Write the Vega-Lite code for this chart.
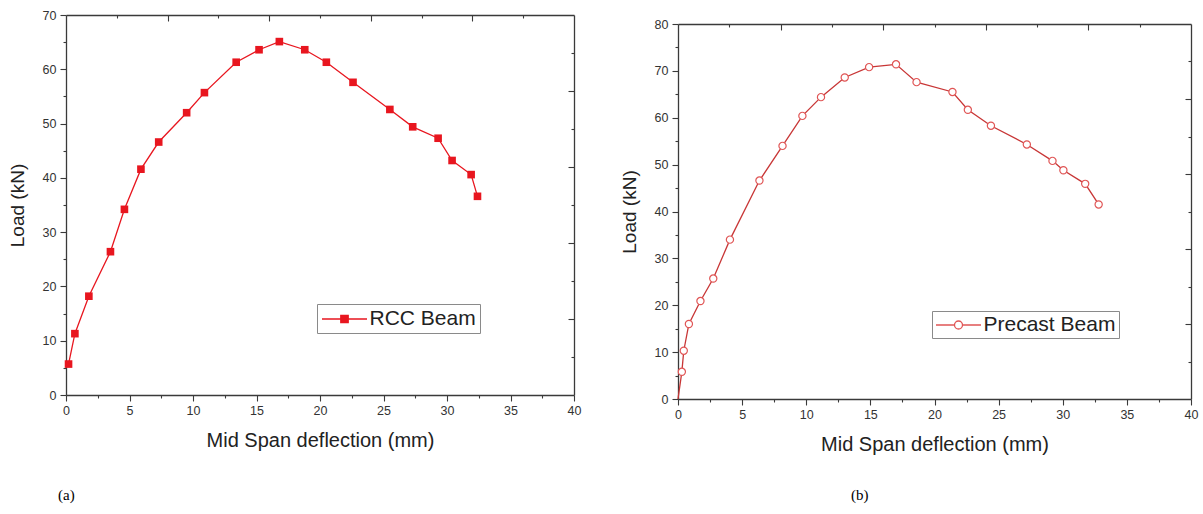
{
  "$schema": "https://vega.github.io/schema/vega-lite/v6.json",
  "padding": {"left": 8, "top": 7, "right": 4, "bottom": 5},
  "background": "white",
  "spacing": 39,
  "resolve": {"legend": {"color": "independent", "stroke": "independent"}, "scale": {"color": "independent", "stroke": "independent"}},
  "config": {
    "view": {"stroke": null},
    "axis": {
      "grid": false,
      "domainColor": "#3a3a3a",
      "domainWidth": 1.3,
      "tickColor": "#3a3a3a",
      "tickWidth": 1.1,
      "labelFont": "Liberation Sans",
      "labelFontSize": 12.5,
      "labelColor": "#333333",
      "titleFont": "Liberation Sans",
      "titleFontSize": 19,
      "titleFontWeight": "normal",
      "titleColor": "#222222",
      "labelFlush": false
    }
  },
  "datasets": {
    "rcc": [
      {"deflection": 0.2, "load": 5.7},
      {"deflection": 0.7, "load": 11.3},
      {"deflection": 1.8, "load": 18.2},
      {"deflection": 3.5, "load": 26.4},
      {"deflection": 4.6, "load": 34.2},
      {"deflection": 5.9, "load": 41.6},
      {"deflection": 7.3, "load": 46.6},
      {"deflection": 9.5, "load": 52.0},
      {"deflection": 10.9, "load": 55.7},
      {"deflection": 13.4, "load": 61.3},
      {"deflection": 15.2, "load": 63.6},
      {"deflection": 16.8, "load": 65.1},
      {"deflection": 18.8, "load": 63.6},
      {"deflection": 20.5, "load": 61.3},
      {"deflection": 22.6, "load": 57.6},
      {"deflection": 25.5, "load": 52.6},
      {"deflection": 27.3, "load": 49.4},
      {"deflection": 29.3, "load": 47.3},
      {"deflection": 30.4, "load": 43.2},
      {"deflection": 31.9, "load": 40.6},
      {"deflection": 32.4, "load": 36.6}
    ],
    "precast": [
      {"deflection": 0.0, "load": 0.0},
      {"deflection": 0.3, "load": 5.8},
      {"deflection": 0.45, "load": 10.3},
      {"deflection": 0.85, "load": 16.0},
      {"deflection": 1.75, "load": 20.9},
      {"deflection": 2.75, "load": 25.7},
      {"deflection": 4.05, "load": 34.0},
      {"deflection": 6.35, "load": 46.6},
      {"deflection": 8.15, "load": 54.0},
      {"deflection": 9.7, "load": 60.4},
      {"deflection": 11.15, "load": 64.4},
      {"deflection": 13.0, "load": 68.6},
      {"deflection": 14.9, "load": 70.8},
      {"deflection": 17.0, "load": 71.4},
      {"deflection": 18.6, "load": 67.6},
      {"deflection": 21.4, "load": 65.5},
      {"deflection": 22.6, "load": 61.7},
      {"deflection": 24.4, "load": 58.3},
      {"deflection": 27.2, "load": 54.3},
      {"deflection": 29.2, "load": 50.8},
      {"deflection": 30.05, "load": 48.8},
      {"deflection": 31.75, "load": 45.9},
      {"deflection": 32.8, "load": 41.5}
    ]
  },
  "hconcat": [
    {
      "width": 508,
      "height": 380,
      "data": {"name": "rcc"},
      "title": {"text": "(a)", "orient": "bottom", "anchor": "start", "frame": "group", "font": "Liberation Serif", "fontSize": 15, "fontWeight": "normal", "color": "#000000", "offset": 37, "dx": -8},
      "layer": [
        {
          "mark": {"type": "line", "color": "#e8161f", "strokeWidth": 1.3},
          "encoding": {
            "x": {"field": "deflection", "type": "quantitative", "scale": {"domain": [0, 40], "nice": false},
              "axis": {"orient": "bottom", "values": [0, 2.5, 5, 7.5, 10, 12.5, 15, 17.5, 20, 22.5, 25, 27.5, 30, 32.5, 35, 37.5, 40],
                "labelExpr": "datum.value % 5 === 0 ? datum.label : ''",
                "tickSize": {"condition": {"test": "datum.value % 5 === 0", "value": 6}, "value": 3},
                "title": "Mid Span deflection (mm)", "titleFontSize": 20, "titlePadding": 14, "labelPadding": 3}},
            "y": {"field": "load", "type": "quantitative", "scale": {"domain": [0, 70], "nice": false},
              "axis": {"orient": "left", "values": [0, 5, 10, 15, 20, 25, 30, 35, 40, 45, 50, 55, 60, 65, 70],
                "labelExpr": "datum.value % 10 === 0 ? datum.label : ''",
                "tickSize": {"condition": {"test": "datum.value % 10 === 0", "value": 6}, "value": 3},
                "title": "Load (kN)", "titlePadding": 9, "minExtent": 30, "labelPadding": 4}}
          }
        },
        {
          "mark": {"type": "point", "shape": "square", "filled": true, "size": 58, "opacity": 1},
          "encoding": {
            "x": {"field": "deflection", "type": "quantitative",
              "axis": {"orient": "top", "values": [4, 8, 12, 16, 20, 24, 28, 32, 36], "labels": false,
                "tickSize": {"condition": {"test": "datum.value % 8 === 0", "value": -6}, "value": -3},
                "title": null, "minExtent": 8}},
            "y": {"field": "load", "type": "quantitative",
              "axis": {"orient": "right", "values": [7, 14, 21, 28, 35, 42, 49, 56, 63], "labels": false,
                "tickSize": {"condition": {"test": "datum.value % 14 === 0", "value": -6}, "value": -3},
                "title": null}},
            "color": {"datum": "RCC Beam", "type": "nominal", "scale": {"range": ["#e8161f"]},
              "legend": {"orient": "none", "legendX": 251, "legendY": 289, "title": null,
                "symbolType": "M-2.25,0H2.25M-0.37,-0.37H0.37V0.37H-0.37Z", "symbolSize": 400, "symbolOffset": 12.5,
                "symbolFillColor": "#e8161f", "symbolStrokeColor": "#e8161f", "symbolStrokeWidth": 1.3, "symbolOpacity": 1,
                "labelFont": "Liberation Sans", "labelFontSize": 21, "labelColor": "#222222", "labelOffset": 14,
                "padding": 4, "strokeColor": "#8a8a8a", "fillColor": "#ffffff"}}
          }
        }
      ],
      "resolve": {"axis": {"x": "independent", "y": "independent"}}
    },
    {
      "spacing": 0,
      "vconcat": [
        {
          "width": 513,
          "height": 1,
          "data": {"values": []},
          "mark": "point"
        },
        {
          "width": 513,
          "height": 375,
          "data": {"name": "precast"},
          "title": {"text": "(b)", "orient": "bottom", "anchor": "start", "frame": "group", "font": "Liberation Serif", "fontSize": 15, "fontWeight": "normal", "color": "#000000", "offset": 33, "dx": 173},
          "layer": [
            {
              "mark": {"type": "line", "color": "#c83636", "strokeWidth": 1.3},
              "encoding": {
                "x": {"field": "deflection", "type": "quantitative", "scale": {"domain": [0, 40], "nice": false},
                  "axis": {"orient": "bottom", "values": [0, 2.5, 5, 7.5, 10, 12.5, 15, 17.5, 20, 22.5, 25, 27.5, 30, 32.5, 35, 37.5, 40],
                    "labelExpr": "datum.value % 5 === 0 ? datum.label : ''",
                    "tickSize": {"condition": {"test": "datum.value % 5 === 0", "value": 6}, "value": 3},
                    "title": "Mid Span deflection (mm)", "titleFontSize": 20, "titlePadding": 14, "labelPadding": 3}},
                "y": {"field": "load", "type": "quantitative", "scale": {"domain": [0, 80], "nice": false},
                  "axis": {"orient": "left", "values": [0, 5, 10, 15, 20, 25, 30, 35, 40, 45, 50, 55, 60, 65, 70, 75, 80],
                    "labelExpr": "datum.value % 10 === 0 ? datum.label : ''",
                    "tickSize": {"condition": {"test": "datum.value % 10 === 0", "value": 6}, "value": 3},
                    "title": "Load (kN)", "titlePadding": 9, "minExtent": 30, "labelPadding": 4}}
              }
            },
            {
              "transform": [{"filter": "datum.load > 0"}],
              "mark": {"type": "point", "shape": "circle", "filled": true, "fill": "#ffffff", "size": 52, "strokeWidth": 1.2, "opacity": 1},
              "encoding": {
                "x": {"field": "deflection", "type": "quantitative",
                  "axis": {"orient": "top", "values": [4, 8, 12, 16, 20, 24, 28, 32, 36], "labels": false,
                    "tickSize": {"condition": {"test": "datum.value % 8 === 0", "value": -6}, "value": -3},
                    "title": null, "minExtent": 8}},
                "y": {"field": "load", "type": "quantitative",
                  "axis": {"orient": "right", "values": [8, 16, 24, 32, 40, 48, 56, 64, 72], "labels": false,
                    "tickSize": {"condition": {"test": "datum.value % 16 === 0", "value": -6}, "value": -3},
                    "title": null}},
                "stroke": {"datum": "Precast Beam", "type": "nominal", "scale": {"range": ["#e05555"]},
                  "legend": {"orient": "none", "legendX": 254, "legendY": 287, "title": null,
                    "symbolType": "M-2.25,0H-0.4M0.4,0H2.25M0.4,0A0.4,0.4,0,1,1,-0.4,0A0.4,0.4,0,1,1,0.4,0Z", "symbolSize": 400, "symbolOffset": 12.5,
                    "symbolFillColor": "#ffffff", "symbolStrokeColor": "#d84848", "symbolStrokeWidth": 1.3, "symbolOpacity": 1,
                    "labelFont": "Liberation Sans", "labelFontSize": 21, "labelColor": "#222222", "labelOffset": 14,
                    "padding": 3, "strokeColor": "#8a8a8a", "fillColor": "#ffffff"}}
              }
            }
          ],
          "resolve": {"axis": {"x": "independent", "y": "independent"}}
        }
      ],
      "resolve": {"legend": {"stroke": "independent"}, "scale": {"stroke": "independent"}}
    }
  ]
}
